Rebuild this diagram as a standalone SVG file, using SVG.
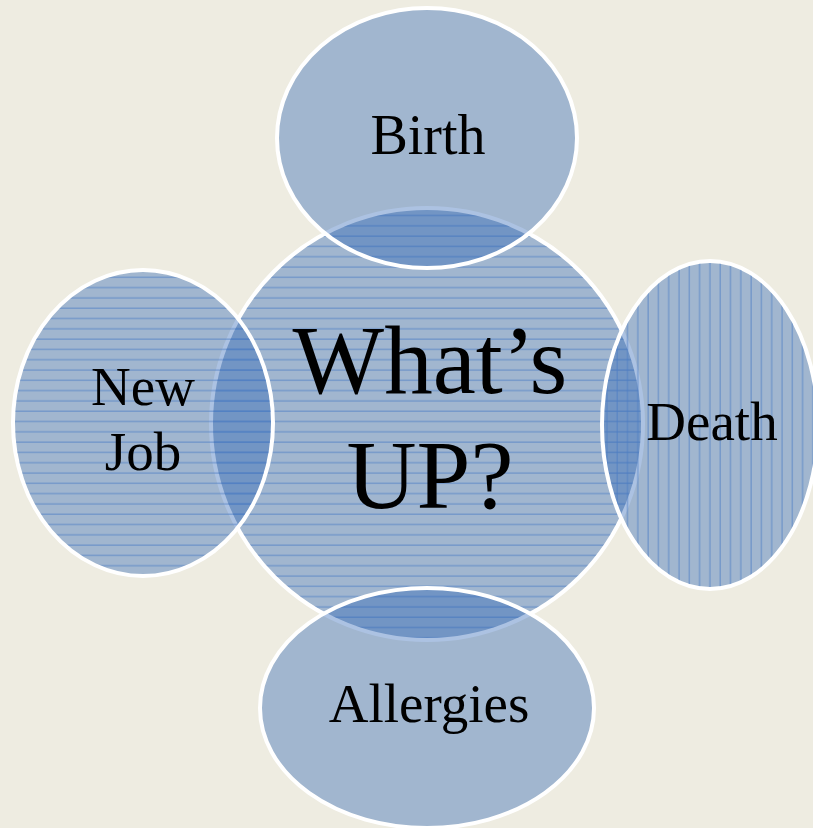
<svg xmlns="http://www.w3.org/2000/svg" width="813" height="828" viewBox="0 0 813 828">
<style>
.shape{fill:#2a62b4;fill-opacity:0.39;stroke:#ffffff;stroke-width:4}
.lbl{font-family:"Liberation Serif","Times New Roman",serif;fill:#000;text-anchor:middle}
</style>
<defs>
<pattern id="hlines" patternUnits="userSpaceOnUse" width="10" height="10.3">
<rect x="0" y="9" width="10" height="1" fill="#4a7cc4" fill-opacity="0.75"/>
</pattern>
<pattern id="vlines" patternUnits="userSpaceOnUse" width="10.3" height="10">
<rect x="9" y="0" width="1" height="10" fill="#4a7cc4" fill-opacity="0.75"/>
</pattern>
</defs>
<rect x="0" y="0" width="813" height="828" fill="#eeece1"/>
<g id="center">
<circle class="shape" cx="427" cy="424" r="216"/>
<circle cx="427" cy="424" r="214" fill="url(#hlines)"/>
<text class="lbl" x="430" y="393" font-size="97">What’s</text>
<text class="lbl" x="430" y="508" font-size="97">UP?</text>
</g>
<g id="birth">
<ellipse class="shape" cx="427" cy="138" rx="150" ry="130"/>
<text class="lbl" x="428" y="154" font-size="56">Birth</text>
</g>
<g id="newjob">
<ellipse class="shape" cx="143" cy="423" rx="130" ry="153"/>
<ellipse cx="143" cy="423" rx="128" ry="151" fill="url(#hlines)"/>
<text class="lbl" x="143" y="405" font-size="55">New</text>
<text class="lbl" x="143" y="470" font-size="55">Job</text>
</g>
<g id="death">
<ellipse class="shape" cx="710" cy="425" rx="108" ry="164"/>
<ellipse cx="710" cy="425" rx="106" ry="162" fill="url(#vlines)"/>
<text class="lbl" x="712" y="440" font-size="55">Death</text>
</g>
<g id="allergies">
<ellipse class="shape" cx="427" cy="708" rx="167" ry="120"/>
<text class="lbl" x="429" y="722" font-size="55">Allergies</text>
</g>
<g id="connectors"/>
</svg>
